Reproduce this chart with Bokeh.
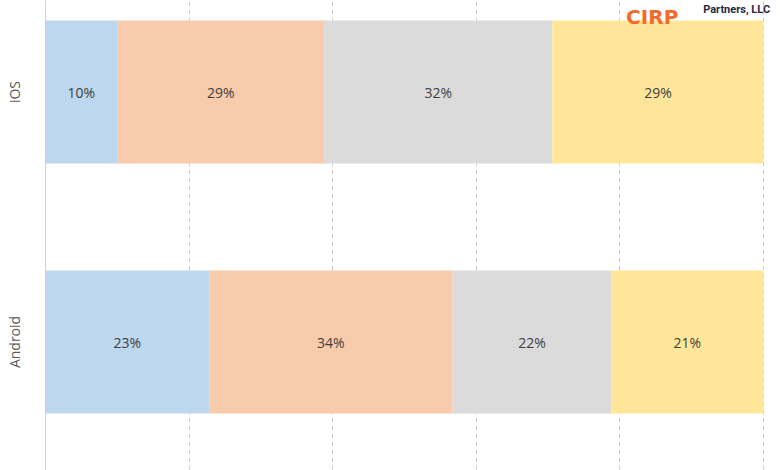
from bokeh.plotting import figure
from bokeh.models import ColumnDataSource, Range1d, FixedTicker, Label
from bokeh.core.properties import value
from bokeh.embed import file_html
from bokeh.resources import INLINE
import numpy as np

platforms = ["iOS", "Android"]
segments = ["s1", "s2", "s3", "s4"]
seg_values = {
    "s1": [10.0, 22.8],
    "s2": [28.8, 33.9],
    "s3": [31.8, 22.1],
    "s4": [29.4, 21.2],
}
seg_labels = {
    "s1": ["10%", "23%"],
    "s2": ["29%", "34%"],
    "s3": ["32%", "22%"],
    "s4": ["29%", "21%"],
}
colors = ["#BDD7EE", "#F8CBAD", "#DBDBDB", "#FFE699"]
grid_ticks = [0, 20, 40, 60, 80, 100]

n = len(platforms)
ypos = [n - i for i in range(n)]

data = {"y": ypos}
data.update(seg_values)
src = ColumnDataSource(data)

p = figure(
    output_backend="svg", toolbar_location=None,
    frame_width=735, frame_height=470,
    x_range=Range1d(0, 100 * 735 / 718), y_range=Range1d(0.486, 2.366),
    min_border_left=45, min_border_right=0, min_border_top=0, min_border_bottom=0,
    background_fill_color="white", border_fill_color="white",
)
p.outline_line_color = None

p.hbar_stack(segments, y="y", height=0.572, color=colors, source=src, line_color=None)

# segment labels
cum = np.zeros(n)
xs, ys, txt = [], [], []
for s in segments:
    v = np.array(seg_values[s])
    mid = cum + v / 2
    cum = cum + v
    xs += list(mid)
    ys += ypos
    txt += seg_labels[s]
p.text(x=xs, y=ys, text=txt, text_align="center", text_baseline="middle",
       text_font=value("Open Sans"), text_font_size="14px", text_color="#404040")

# axes
p.xaxis.visible = False
p.xgrid.ticker = FixedTicker(ticks=grid_ticks)
p.xgrid.grid_line_color = "#D0D0D0"
p.xgrid.grid_line_dash = "5 3"
p.ygrid.grid_line_color = None

p.yaxis.ticker = FixedTicker(ticks=ypos)
p.yaxis.major_label_overrides = {y: lab for y, lab in zip(ypos, platforms)}
p.yaxis.major_label_orientation = "vertical"
p.yaxis.major_tick_line_color = None
p.yaxis.minor_tick_line_color = None
p.yaxis.axis_line_color = "#D0D0D0"
p.yaxis.major_label_standoff = 16
p.yaxis.major_label_text_font = "Open Sans"
p.yaxis.major_label_text_font_size = "14px"
p.yaxis.major_label_text_color = "#595959"

# logo at top right
p.add_layout(Label(x=84.5, y=2.302, text="CIRP", text_font="DejaVu Sans",
                   text_font_style="bold", text_font_size="20px", text_color="#F26B2A",
                   text_baseline="alphabetic", text_align="center"))
p.add_layout(Label(x=91.6, y=2.33, text="Partners, LLC", text_font="Roboto",
                   text_font_style="bold", text_font_size="11px", text_color="#1F2A44",
                   text_baseline="alphabetic", text_align="left"))

open("out.html", "w").write(file_html(p, INLINE))
